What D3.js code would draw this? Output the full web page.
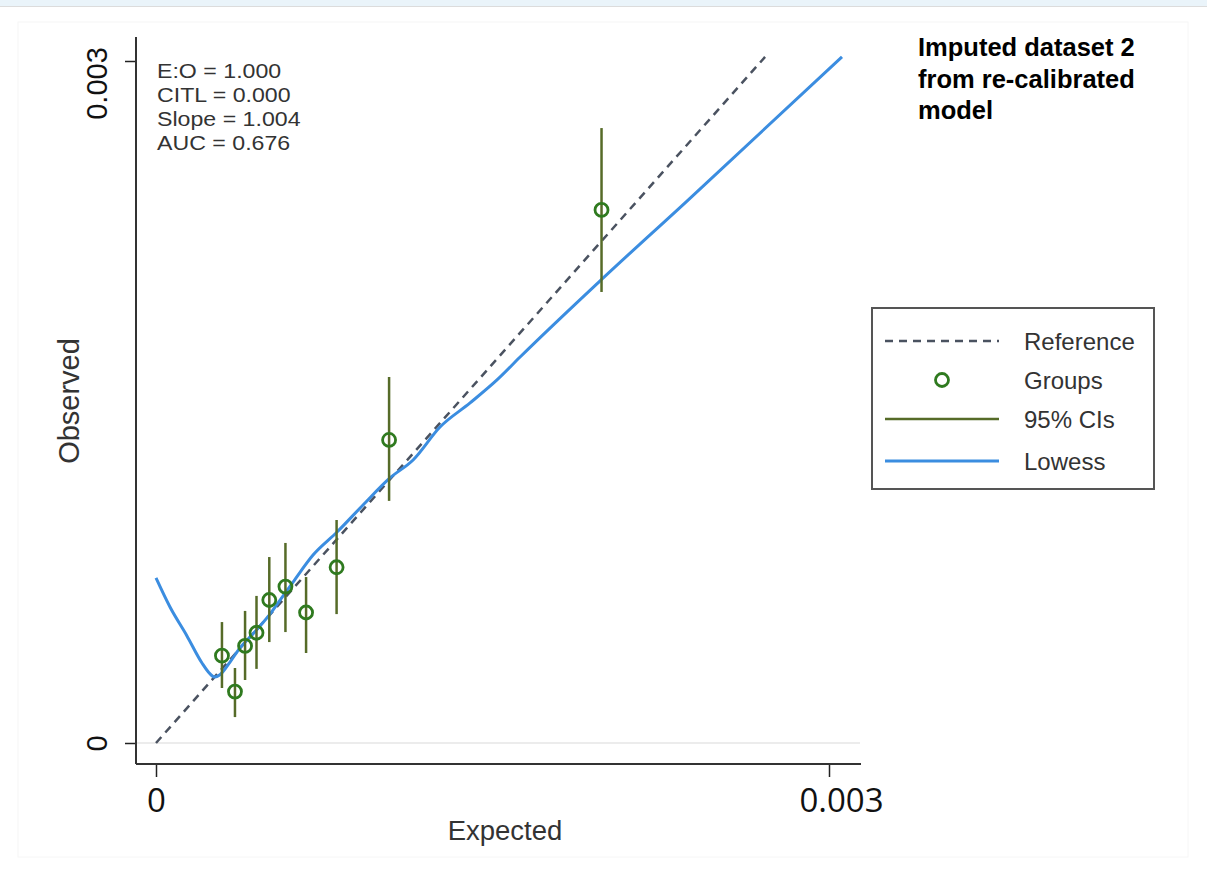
<!DOCTYPE html>
<html>
<head>
<meta charset="utf-8">
<script src="https://cdn.jsdelivr.net/npm/d3@7"></script>
<style>
  body { margin: 0; background: #fff; }
  text { font-family: "Liberation Sans", Arial, sans-serif; }
</style>
</head>
<body>
<svg id="calPlot"></svg>
<script>
// group estimates (expected vs observed) with 95% CIs
const groupX = [0.000294, 0.000352, 0.000397, 0.000448, 0.000505, 0.000577, 0.000669, 0.000805, 0.001039, 0.001986];
const groupY = [0.000384, 0.000226, 0.000427, 0.000485, 0.000629, 0.000688, 0.000574, 0.000773, 0.001333, 0.002345];
const ciLow  = [0.000242, 0.000114, 0.000277, 0.000326, 0.000444, 0.000488, 0.000396, 0.000567, 0.001065, 0.001984];
const ciHigh = [0.000532, 0.000330, 0.000581, 0.000647, 0.000818, 0.000880, 0.000730, 0.000981, 0.001610, 0.002705];

// lowess smoother
const lowessX = [0, 0.0000624, 0.000138, 0.000205, 0.000240, 0.000262, 0.000285, 0.000330, 0.000374, 0.000419, 0.000464,
                 0.000508, 0.000553, 0.000611, 0.000700, 0.000807, 0.000923, 0.001043, 0.001146, 0.001266,
                 0.001400, 0.001520, 0.001623, 0.001984, 0.002367, 0.003058];
const lowessY = [0.000726, 0.000598, 0.000471, 0.000352, 0.000305, 0.000290, 0.000300, 0.000356, 0.000418, 0.000466, 0.000515,
                 0.000567, 0.000629, 0.000708, 0.000827, 0.000928, 0.001047, 0.001166, 0.001245, 0.001390,
                 0.001496, 0.001597, 0.001698, 0.002037, 0.002384, 0.003018];

// reference line
const refX = [0, 0.002715];
const refY = [0, 0.003018];

const xTicks = [0, 0.003];
const yTicks = [0, 0.003];
const statLines = ["E:O = 1.000", "CITL = 0.000", "Slope = 1.004", "AUC = 0.676"];
const titleLines = ["Imputed dataset 2", "from re-calibrated", "model"];
const legendLabels = ["Reference", "Groups", "95% CIs", "Lowess"];

const W = 1207, H = 875;
const refColor = "#4a5260", lowColor = "#3b8de0", ciColor = "#566b28", grpColor = "#2f7a1f";

const svg = d3.select("#calPlot").attr("width", W).attr("height", H);

// faint window frame
svg.append("rect").attr("x", 0).attr("y", 0).attr("width", W).attr("height", 6).attr("fill", "#eaf4fa");
svg.append("line").attr("x1", 0).attr("x2", W).attr("y1", 6.5).attr("y2", 6.5).attr("stroke", "#dcdcdc");
svg.append("rect").attr("x", 18).attr("y", 22).attr("width", 1170).attr("height", 835)
    .attr("fill", "none").attr("stroke", "#f6f6f6");

const x = d3.scaleLinear().domain([0, 0.003]).range([156, 829]);
const y = d3.scaleLinear().domain([0, 0.003]).range([743, 61]);
const axisY0 = 764, axisX0 = 136;

// gridline at 0
svg.append("line").attr("x1", axisX0).attr("x2", 860).attr("y1", y(0)).attr("y2", y(0))
    .attr("stroke", "#ececec").attr("stroke-width", 2);

// y axis
const yAxis = svg.append("g").attr("transform", `translate(${axisX0},0)`)
    .call(d3.axisLeft(y).tickValues(yTicks).tickSize(11).tickFormat(d => d === 0 ? "0" : "0.003"));
yAxis.select(".domain").remove();
yAxis.selectAll(".tick line").attr("stroke", "#222").attr("stroke-width", 1.5);
yAxis.selectAll(".tick text")
    .attr("font-size", 29).attr("fill", "#111").attr("text-anchor", "middle")
    .attr("x", null).attr("dy", null)
    .attr("transform", d => `translate(-29,${d === 0 ? 0 : 22}) rotate(-90)`);
svg.append("line").attr("x1", axisX0).attr("x2", axisX0).attr("y1", 37).attr("y2", axisY0)
    .attr("stroke", "#333").attr("stroke-width", 2);

// x axis
const xAxis = svg.append("g").attr("transform", `translate(0,${axisY0})`)
    .call(d3.axisBottom(x).tickValues(xTicks).tickSize(13).tickFormat(d => d === 0 ? "0" : "0.003"));
xAxis.select(".domain").remove();
xAxis.selectAll(".tick line").attr("stroke", "#222").attr("stroke-width", 1.5);
xAxis.selectAll(".tick text")
    .style("font-family", "'Open Sans', sans-serif")
    .attr("font-size", 33).attr("fill", "#111")
    .attr("y", 48).attr("dy", null)
    .attr("dx", d => d === 0 ? 0 : 12);
svg.append("line").attr("x1", axisX0).attr("x2", 861).attr("y1", axisY0).attr("y2", axisY0)
    .attr("stroke", "#333").attr("stroke-width", 2);

// axis titles
svg.append("text").attr("x", 505).attr("y", 840).attr("text-anchor", "middle")
    .attr("font-size", 27.5).attr("fill", "#333").text("Expected");
svg.append("text").attr("transform", "translate(79,401) rotate(-90)").attr("text-anchor", "middle")
    .attr("font-size", 29).attr("fill", "#333").text("Observed");

// reference line
const refData = refX.map((v, i) => [v, refY[i]]);
svg.append("path").datum(refData)
    .attr("d", d3.line().x(d => x(d[0])).y(d => y(d[1])))
    .attr("fill", "none").attr("stroke", refColor).attr("stroke-width", 2.5)
    .attr("stroke-dasharray", "8,6");

// lowess
const lowData = lowessX.map((v, i) => [v, lowessY[i]]);
svg.append("path").datum(lowData)
    .attr("d", d3.line().x(d => x(d[0])).y(d => y(d[1])).curve(d3.curveMonotoneX))
    .attr("fill", "none").attr("stroke", lowColor).attr("stroke-width", 3);

// CIs
const groups = groupX.map((v, i) => ({ x: v, y: groupY[i], lo: ciLow[i], hi: ciHigh[i] }));
svg.append("g").selectAll("line").data(groups).enter().append("line")
    .attr("x1", d => x(d.x)).attr("x2", d => x(d.x))
    .attr("y1", d => y(d.lo)).attr("y2", d => y(d.hi))
    .attr("stroke", ciColor).attr("stroke-width", 2.5);

// groups
svg.append("g").selectAll("circle").data(groups).enter().append("circle")
    .attr("cx", d => x(d.x)).attr("cy", d => y(d.y)).attr("r", 6.5)
    .attr("fill", "none").attr("stroke", grpColor).attr("stroke-width", 2.8);

// stats text (slightly stretched so lines stay tight without overlapping)
svg.append("g").attr("transform", "translate(157,0) scale(1.13,1)")
    .selectAll("text").data(statLines).enter().append("text")
    .attr("x", 0).attr("y", (d, i) => 78 + i * 24)
    .attr("font-size", 20.5).attr("fill", "#333").text(d => d);

// title
svg.append("g").selectAll("text").data(titleLines).enter().append("text")
    .attr("x", 918).attr("y", (d, i) => 56 + i * 31.5)
    .attr("font-size", 25.5).attr("font-weight", "bold").attr("fill", "#000").text(d => d);

// legend
const lg = svg.append("g");
lg.append("rect").attr("x", 872).attr("y", 308).attr("width", 282).attr("height", 181)
    .attr("fill", "#fff").attr("stroke", "#555").attr("stroke-width", 2);
const rowY = [341, 380, 419, 461];
lg.append("line").attr("x1", 885).attr("x2", 999).attr("y1", rowY[0]).attr("y2", rowY[0])
    .attr("stroke", refColor).attr("stroke-width", 2.5).attr("stroke-dasharray", "8,6");
lg.append("circle").attr("cx", 942).attr("cy", rowY[1]).attr("r", 6.5)
    .attr("fill", "none").attr("stroke", grpColor).attr("stroke-width", 2.8);
lg.append("line").attr("x1", 885).attr("x2", 999).attr("y1", rowY[2]).attr("y2", rowY[2])
    .attr("stroke", ciColor).attr("stroke-width", 2.5);
lg.append("line").attr("x1", 885).attr("x2", 999).attr("y1", rowY[3]).attr("y2", rowY[3])
    .attr("stroke", lowColor).attr("stroke-width", 3);
lg.selectAll("text.lab").data(legendLabels).enter().append("text")
    .attr("class", "lab").attr("x", 1024).attr("y", (d, i) => rowY[i] + 9)
    .attr("font-size", 24).attr("fill", "#333").text(d => d);
</script>
</body>
</html>
